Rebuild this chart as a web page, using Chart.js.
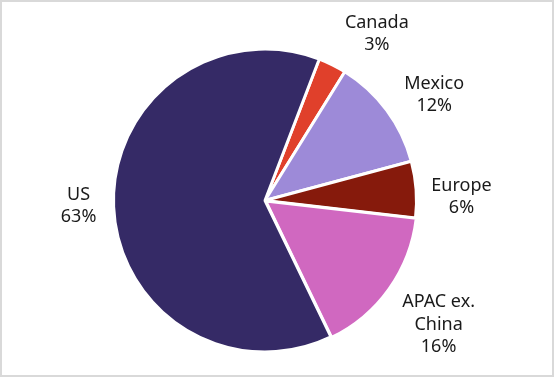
<!DOCTYPE html>
<html>
<head>
<meta charset="utf-8">
<script src="https://cdn.jsdelivr.net/npm/chart.js@4"></script>
<style>
  html, body { margin: 0; padding: 0; background: #fff; }
  #wrap {
    width: 554px; height: 377px; box-sizing: border-box;
    border: 2px solid #d9d9d9; position: relative;
  }
  #chart { display: block; }
</style>
</head>
<body>
<div id="wrap"><canvas id="chart" width="550" height="373"></canvas></div>
<script>
// 區域營收比重
const regions = ['Canada', 'Mexico', 'Europe', 'APAC ex. China', 'US'];
const labelLines = [['Canada'], ['Mexico'], ['Europe'], ['APAC ex.', 'China'], ['US']];
const shares = [3, 12, 6, 16, 63];
const sliceColors = ['#e0402b', '#9d8ad8', '#861a0c', '#d068c0', '#352a66'];

// 外圍標籤 (角度微調 / 距離)
const outsideLabels = {
    id: 'outsideLabels',
    afterDatasetsDraw(chart, args, opts) {
        const ctx = chart.ctx;
        const meta = chart.getDatasetMeta(0);
        ctx.save();
        ctx.font = '18px "Noto Sans", "Open Sans", sans-serif';
        ctx.fillStyle = '#1a1a1a';
        ctx.textAlign = 'center';
        ctx.textBaseline = 'middle';
        meta.data.forEach(function (arc, i) {
            const p = arc.getProps(['x', 'y', 'startAngle', 'endAngle', 'outerRadius'], true);
            let mid = (p.startAngle + p.endAngle) / 2;
            // 大扇區標籤放在左側
            if (Math.cos(mid) < 0) mid = Math.PI;
            mid += opts.nudge[i] * Math.PI / 180;
            const dist = p.outerRadius + opts.gap[i];
            const lx = p.x + Math.cos(mid) * dist;
            const ly = p.y + Math.sin(mid) * dist;
            const lines = labelLines[i].concat([shares[i] + '%']);
            const lh = 22.5;
            const top = ly - (lines.length - 1) * lh / 2;
            lines.forEach(function (t, k) {
                ctx.fillText(t, lx, top + k * lh);
            });
        });
        ctx.restore();
    }
};

new Chart(document.getElementById('chart'), {
    type: 'pie',
    data: {
        labels: regions,
        datasets: [{
            data: shares,
            backgroundColor: sliceColors,
            borderColor: '#ffffff',
            borderWidth: 3,
            offset: [0, 0, 0, 3, 0]
        }]
    },
    options: {
        responsive: false,
        animation: false,
        rotation: 21,
        layout: { padding: { top: 44, bottom: 20, left: 100, right: 124 } },
        plugins: {
            legend: { display: false },
            tooltip: { enabled: false },
            outsideLabels: {
                nudge: [7.5, 4.6, 3.2, 0.2, -1.6],
                gap: [49, 48, 45, 62, 35]
            }
        }
    },
    plugins: [outsideLabels]
});
</script>
</body>
</html>
